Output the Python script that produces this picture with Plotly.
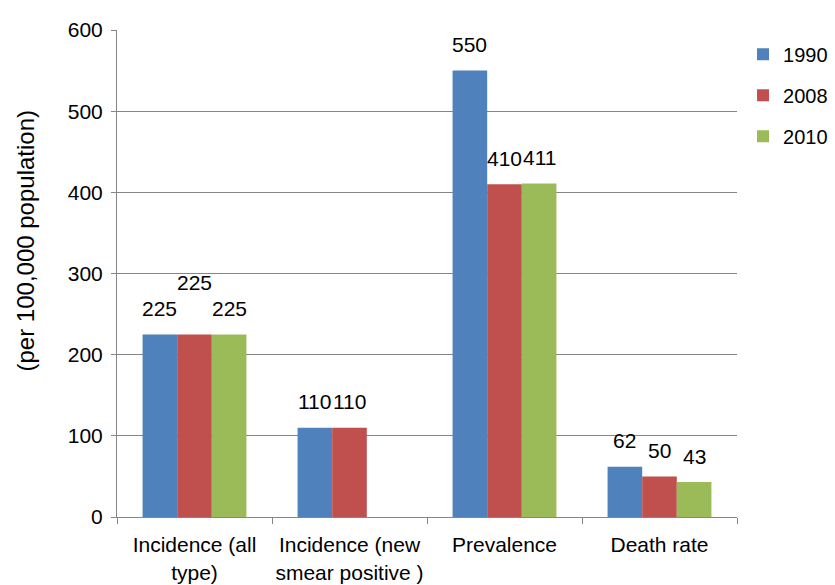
import plotly.graph_objects as go

# Tuberculosis indicators per 100,000 population
categories = ["Incidence (all type)", "Incidence (new smear positive )", "Prevalence", "Death rate"]
tick_labels = ["Incidence (all<br>type)", "Incidence (new<br>smear positive )", "Prevalence", "Death rate"]
years = ["1990", "2008", "2010"]
values_1990 = [225, 110, 550, 62]
values_2008 = [225, 110, 410, 50]
values_2010 = [225, None, 411, 43]

colors = ["#4F81BD", "#C0504D", "#9BBB59"]
FONT = "Liberation Sans, Arial, sans-serif"
GRID = "#868686"
BARGAP = 0.33

series = [values_1990, values_2008, values_2010]

fig = go.Figure()
for i, (year, vals) in enumerate(zip(years, series)):
    fig.add_trace(go.Bar(
        x=categories,
        y=vals,
        name=year,
        legendgroup=year,
        marker=dict(color=colors[i], line=dict(width=0)),
    ))

# value labels above each bar, centred on the bar within its group
n = len(series)
bar_w = (1 - BARGAP) / n
label_lift = {(1, 0): 52}  # 2008 label of the first group sits a row higher
annotations = []
for i, vals in enumerate(series):
    for j, v in enumerate(vals):
        if v is None:
            continue
        annotations.append(dict(
            x=j + (i - (n - 1) / 2) * bar_w, y=v, xref="x", yref="y",
            text=str(v), showarrow=False, xanchor="center", yanchor="middle",
            yshift=label_lift.get((i, j), 26),
            font=dict(family=FONT, size=21, color="#000000"),
        ))

# vertical axis title
annotations.append(dict(
    x=0, y=0.5, xref="paper", yref="paper", xshift=-92, yshift=33,
    text="(per 100,000 population)", textangle=-90, showarrow=False,
    xanchor="center", yanchor="middle",
    font=dict(family=FONT, size=24, color="#000000"),
))

fig.update_layout(
    width=835, height=585,
    margin=dict(l=117, r=98, t=30, b=68, autoexpand=False),
    paper_bgcolor="white", plot_bgcolor="white",
    barmode="group", bargap=BARGAP, bargroupgap=0,
    font=dict(family=FONT, size=21, color="#000000"),
    showlegend=True,
    legend=dict(
        x=1.0097, y=0.99, xanchor="left", yanchor="top",
        xref="paper", yref="paper",
        font=dict(family=FONT, size=20, color="#000000"),
        tracegroupgap=12, bgcolor="rgba(0,0,0,0)",
    ),
    annotations=annotations,
)

fig.update_xaxes(
    type="category",
    tickmode="array", tickvals=categories, ticktext=tick_labels,
    tickangle=0,
    ticks="outside", tickson="boundaries", ticklen=6, tickcolor=GRID,
    ticklabelstandoff=9,
    showgrid=False, zeroline=False,
    showline=True, linecolor=GRID, linewidth=1,
    tickfont=dict(family=FONT, size=21),
)

fig.update_yaxes(
    range=[0, 600], dtick=100, tick0=0,
    showgrid=True, gridcolor=GRID, gridwidth=1,
    zeroline=False, showline=True, linecolor=GRID, linewidth=1,
    ticks="outside", ticklen=5, tickcolor=GRID, ticklabelstandoff=4,
    tickfont=dict(family=FONT, size=21),
)

fig.write_html("out.html")
